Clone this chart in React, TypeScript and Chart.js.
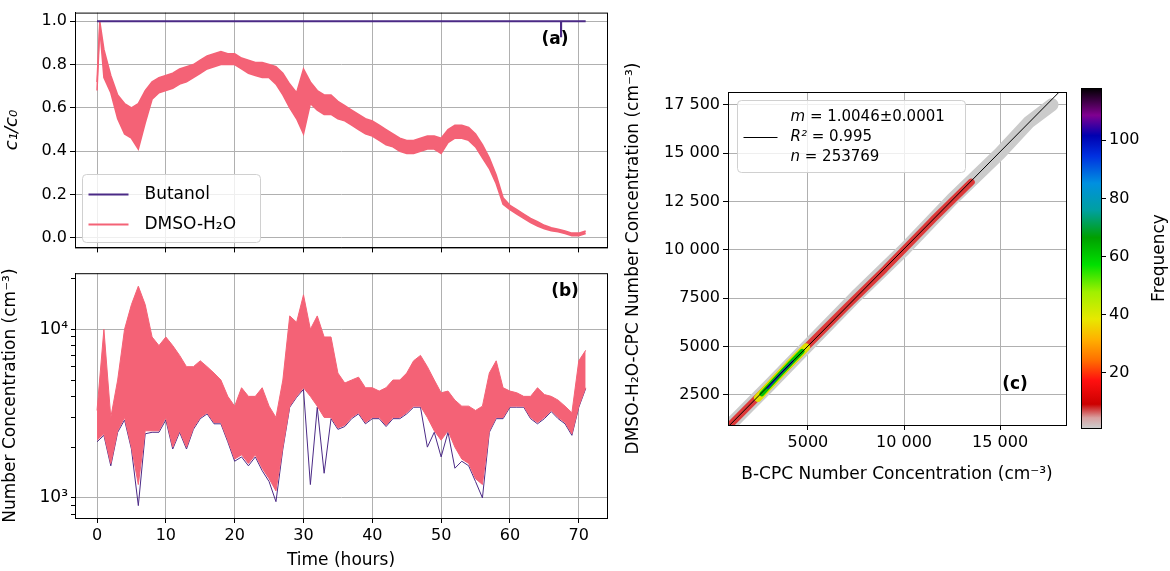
import React, { useEffect, useRef } from "react";
import { Chart, registerables } from "chart.js";
Chart.register(...registerables);

// ---------- data ----------
const hoursA = [0, 0.4, 1, 2, 3, 4, 5, 6, 7, 8, 9, 10, 11, 12, 13, 14, 15, 16, 17, 18, 19, 20, 21, 22, 23, 24, 25, 26, 27, 28, 29, 30, 31, 32, 33, 34, 35, 36, 37, 38, 39, 40, 41, 42, 43, 44, 45, 46, 47, 48, 49, 50, 51, 52, 53, 54, 55, 56, 57, 58, 59, 60, 61, 62, 63, 64, 65, 66, 67, 68, 69, 70, 71];
const dmsoRatioLo = [0.68, 0.97, 0.74, 0.67, 0.55, 0.48, 0.46, 0.41, 0.53, 0.64, 0.67, 0.68, 0.69, 0.71, 0.72, 0.74, 0.76, 0.78, 0.79, 0.8, 0.8, 0.8, 0.78, 0.76, 0.75, 0.74, 0.74, 0.71, 0.66, 0.6, 0.55, 0.48, 0.62, 0.59, 0.57, 0.57, 0.55, 0.54, 0.52, 0.5, 0.48, 0.47, 0.45, 0.43, 0.42, 0.4, 0.39, 0.39, 0.4, 0.41, 0.41, 0.39, 0.44, 0.46, 0.46, 0.45, 0.42, 0.37, 0.32, 0.25, 0.155, 0.13, 0.11, 0.09, 0.07, 0.055, 0.042, 0.033, 0.028, 0.02, 0.01, 0.01, 0.02];
const dmsoRatioHi = [0.72, 1.0, 0.87, 0.75, 0.66, 0.62, 0.6, 0.62, 0.68, 0.72, 0.74, 0.75, 0.76, 0.78, 0.79, 0.8, 0.82, 0.84, 0.85, 0.86, 0.85, 0.85, 0.83, 0.82, 0.81, 0.81, 0.8, 0.79, 0.76, 0.71, 0.67, 0.78, 0.72, 0.68, 0.66, 0.66, 0.63, 0.61, 0.59, 0.57, 0.55, 0.54, 0.52, 0.5, 0.48, 0.46, 0.45, 0.45, 0.46, 0.47, 0.47, 0.46, 0.5, 0.52, 0.52, 0.51, 0.48, 0.43, 0.37, 0.29, 0.185, 0.15, 0.13, 0.11, 0.09, 0.075, 0.058, 0.047, 0.04, 0.032, 0.022, 0.022, 0.032];
const butanolRatioX = [0, 67.4, 67.4, 67.45, 67.45, 71];
const butanolRatioY = [1.0, 1.0, 0.93, 0.93, 1.0, 1.0];
const ratioTicksX = [0, 10, 20, 30, 40, 50, 60, 70];
const ratioTicksY = [0, 0.2, 0.4, 0.6, 0.8, 1.0];

const hoursB = [0, 1, 2, 3, 4, 5, 6, 7, 8, 9, 10, 11, 12, 13, 14, 15, 16, 17, 18, 19, 20, 21, 22, 23, 24, 25, 26, 27, 28, 29, 30, 31, 32, 33, 34, 35, 36, 37, 38, 39, 40, 41, 42, 43, 44, 45, 46, 47, 48, 49, 50, 51, 52, 53, 54, 55, 56, 57, 58, 59, 60, 61, 62, 63, 64, 65, 66, 67, 68, 69, 70, 71];
const concLo = [2200, 2400, 1600, 2500, 3000, 2000, 1200, 2500, 2500, 2500, 3000, 2000, 2500, 2000, 2600, 3000, 3200, 2800, 2800, 2200, 1700, 1800, 1600, 1800, 1500, 1300, 1100, 2000, 3500, 4000, 4500, 4000, 3500, 3000, 3000, 2600, 2700, 3000, 3200, 2800, 3000, 3000, 2700, 3000, 3000, 3200, 3500, 3500, 3000, 2500, 2200, 2500, 2000, 1700, 1600, 1300, 1200, 2500, 3000, 3000, 3500, 3500, 3500, 3000, 2800, 3000, 3300, 3000, 2800, 2400, 3500, 4500];
const concHi = [3300, 10000, 3000, 5000, 10000, 14000, 18000, 14000, 9000, 8000, 9000, 8000, 7000, 6000, 6000, 6500, 6000, 5500, 5000, 4000, 3500, 4500, 4000, 4000, 4500, 3500, 3000, 5000, 12000, 11000, 16000, 10000, 12000, 9000, 9000, 5500, 4800, 5000, 5200, 4500, 4500, 4300, 4500, 5000, 5000, 5500, 6500, 7000, 6000, 5000, 4200, 4300, 3800, 3500, 3500, 3300, 3500, 5500, 6500, 4500, 4300, 4200, 4000, 4000, 4500, 4100, 4000, 3800, 3500, 3200, 6500, 7500];
const butanolConcLo = [2150, 2350, 1550, 2450, 2900, 1950, 900, 2400, 2450, 2450, 2900, 1950, 2450, 1950, 2550, 2950, 3150, 2750, 2750, 2150, 1650, 1750, 1550, 1750, 1450, 1250, 950, 1950, 3450, 3950, 4400, 1200, 3450, 1400, 2950, 2550, 2650, 2950, 3150, 2750, 2950, 2950, 2650, 2950, 2950, 3150, 3450, 3450, 2000, 2450, 1750, 2450, 1500, 1650, 1550, 1250, 1000, 2450, 2950, 2950, 3450, 3450, 3450, 2950, 2750, 2950, 3250, 2950, 2750, 2350, 3450, 4450];
const logTicks = [800, 900, 1000, 2000, 3000, 4000, 5000, 6000, 7000, 8000, 9000, 10000, 20000];

const bandGreyX = [900, 3000, 5000, 7500, 10000, 12500, 15000, 16500, 17700];
const bandGreyY = [900, 3000, 5050, 7600, 10000, 12600, 15000, 16600, 17500];
const bandRedX = [950, 3000, 5000, 7000, 9000, 11500, 13500];
const bandRedY = [950, 3000, 5050, 7050, 9000, 11550, 13500];
const coreYellowX = [2400, 3200, 4000, 4900];
const coreYellowY = [2350, 3200, 4050, 4950];
const coreGreenX = [2600, 3300, 4100, 4700];
const coreGreenY = [2550, 3300, 4150, 4750];
const coreBlueX = [2900, 3500, 4200];
const coreBlueY = [2850, 3520, 4230];
const fitX = [0, 19000];
const fitY = [0, 19087];
const scatTicksX = [5000, 10000, 15000];
const scatTicksY = [2500, 5000, 7500, 10000, 12500, 15000, 17500];
const freqTicks = [20, 40, 60, 80, 100];

const PINK = "#f46276";
const PURPLE = "#4b2a86";
const FONT = "'DejaVu Sans', sans-serif";
const GRID = "#b0b0b0";

const frameAndLabel = (label: string, lx: number, ly: number) => ({
  id: "frame",
  afterDraw(chart: any) {
    const { ctx, chartArea: a } = chart;
    ctx.save();
    ctx.strokeStyle = "#000";
    ctx.lineWidth = 1;
    ctx.strokeRect(a.left + 0.5, a.top + 0.5, a.right - a.left, a.bottom - a.top);
    ctx.font = `bold 17px ${FONT}`;
    ctx.fillStyle = "#000";
    ctx.textAlign = "center";
    ctx.textBaseline = "middle";
    ctx.fillText(label, lx, ly);
    ctx.restore();
  },
});

const gridOpts = { color: GRID, lineWidth: 1, tickColor: "#000", tickLength: 5 };
const setTicks = (arr: number[]) => (s: any) => { s.ticks = arr.map((v) => ({ value: v })); };

function useChart(build: (c: HTMLCanvasElement) => Chart) {
  const ref = useRef<HTMLCanvasElement>(null);
  useEffect(() => {
    const ch = build(ref.current!);
    return () => ch.destroy();
  }, []);
  return ref;
}

function PanelA() {
  const ref = useChart((c) =>
    new Chart(c, {
      type: "line",
      data: {
        datasets: [
          { label: "Butanol", order: 0, data: butanolRatioX.map((x, i) => ({ x, y: butanolRatioY[i] })), borderColor: PURPLE, borderWidth: 1.8, pointRadius: 0, fill: false },
          { label: "lo", order: 2, data: hoursA.map((x, i) => ({ x, y: dmsoRatioLo[i] })), borderColor: PINK, borderWidth: 1.5, pointRadius: 0, fill: false },
          { label: "DMSO-H₂O", order: 1, data: hoursA.map((x, i) => ({ x, y: dmsoRatioHi[i] })), borderColor: PINK, backgroundColor: PINK, borderWidth: 1.5, pointRadius: 0, fill: 1 },
        ],
      },
      options: {
        animation: false, responsive: false, maintainAspectRatio: false,
        layout: { padding: { top: 3, right: 13, left: 0, bottom: 0 } },
        plugins: { legend: { display: false }, tooltip: { enabled: false } },
        scales: {
          x: { type: "linear", min: -3.2, max: 74.1, afterFit: (s: any) => { s.height = 10; }, afterBuildTicks: setTicks(ratioTicksX),
            ticks: { display: false }, grid: gridOpts, border: { color: "#000" } },
          y: { min: -0.044, max: 1.04, afterFit: (s: any) => { s.width = 75; }, afterBuildTicks: setTicks(ratioTicksY),
            ticks: { color: "#000", font: { family: FONT, size: 16 }, callback: (v: any) => Number(v).toFixed(1) },
            grid: gridOpts, border: { color: "#000" },
            title: { display: true, text: "c₁/c₀", color: "#000", font: { family: FONT, size: 18, style: "italic" }, padding: 2 } },
        },
      },
      plugins: [
        frameAndLabel("(a)", 555, 40),
        {
          id: "legA",
          afterDraw(chart: any) {
            const ctx = chart.ctx;
            ctx.save();
            ctx.fillStyle = "rgba(255,255,255,0.8)";
            ctx.strokeStyle = "#d0d0d0";
            ctx.lineWidth = 1;
            const x = 82.5, y = 174.5, w = 178, h = 68;
            ctx.beginPath();
            ctx.roundRect(x, y, w, h, 4);
            ctx.fill(); ctx.stroke();
            const items = [["Butanol", PURPLE], ["DMSO-H₂O", PINK]];
            items.forEach(([t, col], i) => {
              const yy = y + 20 + i * 30;
              ctx.strokeStyle = col; ctx.lineWidth = 2;
              ctx.beginPath(); ctx.moveTo(x + 6, yy); ctx.lineTo(x + 46, yy); ctx.stroke();
              ctx.fillStyle = "#000"; ctx.font = `17px ${FONT}`; ctx.textBaseline = "middle";
              ctx.fillText(t, x + 62, yy);
            });
            ctx.restore();
          },
        },
      ],
    } as any)
  );
  return <canvas ref={ref} width={620} height={260} style={{ position: "absolute", left: 0, top: 0, width: 620, height: 260 }} />;
}

function PanelB() {
  const ref = useChart((c) =>
    new Chart(c, {
      type: "line",
      data: {
        datasets: [
          { label: "Butanol", order: 3, data: hoursB.map((x, i) => ({ x, y: butanolConcLo[i] })), borderColor: PURPLE, borderWidth: 1, pointRadius: 0, fill: false },
          { label: "lo", order: 2, data: hoursB.map((x, i) => ({ x, y: concLo[i] })), borderColor: PINK, borderWidth: 1, pointRadius: 0, fill: false },
          { label: "DMSO-H₂O", order: 1, data: hoursB.map((x, i) => ({ x, y: concHi[i] })), borderColor: PINK, backgroundColor: PINK, borderWidth: 1, pointRadius: 0, fill: 1 },
        ],
      },
      options: {
        animation: false, responsive: false, maintainAspectRatio: false,
        layout: { padding: { top: 9, right: 13, left: 0, bottom: 0 } },
        plugins: { legend: { display: false }, tooltip: { enabled: false } },
        scales: {
          x: { type: "linear", min: -3.2, max: 74.1, afterFit: (s: any) => { s.height = 53; }, afterBuildTicks: setTicks(ratioTicksX),
            ticks: { color: "#000", font: { family: FONT, size: 16 }, maxRotation: 0 },
            grid: gridOpts, border: { color: "#000" },
            title: { display: true, text: "Time (hours)", color: "#000", font: { family: FONT, size: 17 }, padding: 0 } },
          y: { type: "logarithmic", min: 760, max: 21500, afterFit: (s: any) => { s.width = 75; }, afterBuildTicks: setTicks(logTicks),
            ticks: { color: "#000", font: { family: FONT, size: 17 }, autoSkip: false,
              callback: (v: any) => (v === 1000 ? "10³" : v === 10000 ? "10⁴" : "") },
            grid: { ...gridOpts, color: (ctx: any) => (ctx.tick && (ctx.tick.value === 1000 || ctx.tick.value === 10000) ? GRID : "rgba(0,0,0,0)"),
              tickLength: 4 },
            border: { color: "#000" },
            title: { display: true, text: "Number Concentration (cm⁻³)", color: "#000", font: { family: FONT, size: 17 }, padding: 0 } },
        },
      },
      plugins: [frameAndLabel("(b)", 565, 32)],
    } as any)
  );
  return <canvas ref={ref} width={620} height={311} style={{ position: "absolute", left: 0, top: 260, width: 620, height: 311 }} />;
}

const fmt = (v: number) => (v >= 10000 ? `${Math.floor(v / 1000)} ${String(v % 1000).padStart(3, "0")}` : String(v));

function PanelC() {
  const ref = useChart((c) => {
    const line = (xs: number[], ys: number[], color: string, w: number, order: number) => ({
      order, data: xs.map((x, i) => ({ x, y: ys[i] })), showLine: true, borderColor: color, borderWidth: w, pointRadius: 0,
      borderCapStyle: "round", borderJoinStyle: "round", fill: false,
    });
    return new Chart(c, {
      type: "scatter",
      data: {
        datasets: [
          line(bandGreyX, bandGreyY, "#cbcbcb", 13, 6),
          line(bandRedX, bandRedY, "rgba(225,20,20,0.8)", 7, 5),
          line(coreYellowX, coreYellowY, "#e0e000", 8, 4),
          line(coreGreenX, coreGreenY, "#00c000", 5, 3),
          line(coreBlueX, coreBlueY, "#1020d0", 2, 2),
          line(fitX, fitY, "#000", 1, 1),
        ],
      },
      options: {
        animation: false, responsive: false, maintainAspectRatio: false,
        layout: { padding: { top: 92, right: 4, left: 3, bottom: 86 } },
        plugins: { legend: { display: false }, tooltip: { enabled: false } },
        scales: {
          x: { type: "linear", min: 840, max: 18430, afterFit: (s: any) => { s.height = 60; }, afterBuildTicks: setTicks(scatTicksX),
            ticks: { color: "#000", font: { family: FONT, size: 16 }, maxRotation: 0, callback: (v: any) => fmt(v) },
            grid: gridOpts, border: { color: "#000" },
            title: { display: true, text: "B-CPC Number Concentration (cm⁻³)", color: "#000", font: { family: FONT, size: 17 }, padding: 0 } },
          y: { min: 940, max: 18160, afterFit: (s: any) => { s.width = 105; }, afterBuildTicks: setTicks(scatTicksY),
            ticks: { color: "#000", font: { family: FONT, size: 16 }, callback: (v: any) => fmt(v) },
            grid: gridOpts, border: { color: "#000" },
            title: { display: true, text: "DMSO-H₂O-CPC Number Concentration (cm⁻³)", color: "#000", font: { family: FONT, size: 17 }, padding: 0 } },
        },
      },
      plugins: [
        frameAndLabel("(c)", 395, 385),
        {
          id: "legC",
          afterDraw(chart: any) {
            const ctx = chart.ctx;
            ctx.save();
            ctx.fillStyle = "rgba(255,255,255,0.8)";
            ctx.strokeStyle = "#d0d0d0";
            const x = 117.5, y = 100.5, w = 228, h = 72;
            ctx.beginPath(); ctx.roundRect(x, y, w, h, 4); ctx.fill(); ctx.stroke();
            ctx.strokeStyle = "#000"; ctx.lineWidth = 1;
            ctx.beginPath(); ctx.moveTo(x + 6, y + 37); ctx.lineTo(x + 40, y + 37); ctx.stroke();
            ctx.fillStyle = "#000"; ctx.textBaseline = "middle";
            const lines: [string, string][] = [["m", " = 1.0046±0.0001"], ["R²", " = 0.995"], ["n", " = 253769"]];
            lines.forEach(([a, b], i) => {
              const yy = y + 17 + i * 20;
              ctx.font = `italic 15px ${FONT}`;
              ctx.fillText(a, x + 53, yy);
              const wa = ctx.measureText(a).width;
              ctx.font = `15px ${FONT}`;
              ctx.fillText(b, x + 53 + wa, yy);
            });
            ctx.restore();
          },
        },
      ],
    } as any);
  });
  return <canvas ref={ref} width={450} height={571} style={{ position: "absolute", left: 620, top: 0, width: 450, height: 571 }} />;
}

function ColorBar() {
  const ref = useChart((c) =>
    new Chart(c, {
      type: "scatter",
      data: { datasets: [{ data: [] }] },
      options: {
        animation: false, responsive: false, maintainAspectRatio: false,
        layout: { padding: { top: 88, left: 11, right: 0, bottom: 143 } },
        plugins: { legend: { display: false }, tooltip: { enabled: false } },
        scales: {
          x: { display: false, min: 0, max: 1 },
          y: { position: "right", min: 1, max: 118, afterFit: (s: any) => { s.width = 69; }, afterBuildTicks: setTicks(freqTicks),
            ticks: { color: "#000", font: { family: FONT, size: 16 } },
            grid: { drawOnChartArea: false, tickColor: "#000", tickLength: 5 }, border: { color: "#000" } },
        },
      },
      plugins: [
        {
          id: "cbar",
          beforeDraw(chart: any) {
            const { ctx, chartArea: a } = chart;
            const g = ctx.createLinearGradient(0, a.bottom, 0, a.top);
            const stops: [number, string][] = [[0, "#cccccc"], [0.03, "#d8a0a0"], [0.07, "#cc0000"], [0.14, "#ff1010"], [0.2, "#ff7000"], [0.26, "#ffb000"], [0.32, "#e8e800"], [0.4, "#a0f000"], [0.48, "#00e000"], [0.56, "#00a000"], [0.64, "#00a0a0"], [0.72, "#0090e0"], [0.8, "#0030e0"], [0.86, "#0000b0"], [0.92, "#800090"], [1, "#000000"]];
            stops.forEach(([p, col]) => g.addColorStop(p, col));
            ctx.save();
            ctx.fillStyle = g;
            ctx.fillRect(a.left, a.top, a.right - a.left, a.bottom - a.top);
            ctx.restore();
          },
          afterDraw(chart: any) {
            const { ctx, chartArea: a } = chart;
            ctx.save();
            ctx.strokeStyle = "#000"; ctx.lineWidth = 1;
            ctx.strokeRect(a.left + 0.5, a.top + 0.5, a.right - a.left, a.bottom - a.top);
            ctx.translate(90, (a.top + a.bottom) / 2);
            ctx.rotate(-Math.PI / 2);
            ctx.fillStyle = "#000"; ctx.font = `17px ${FONT}`; ctx.textAlign = "center"; ctx.textBaseline = "middle";
            ctx.fillText("Frequency", 0, 0);
            ctx.restore();
          },
        },
      ],
    } as any)
  );
  return <canvas ref={ref} width={100} height={571} style={{ position: "absolute", left: 1070, top: 0, width: 100, height: 571 }} />;
}

export default function App() {
  return (
    <div style={{ position: "absolute", left: 0, top: 0, width: 1170, height: 571, background: "#fff", overflow: "hidden" }}>
      <PanelA />
      <PanelB />
      <PanelC />
      <ColorBar />
    </div>
  );
}
